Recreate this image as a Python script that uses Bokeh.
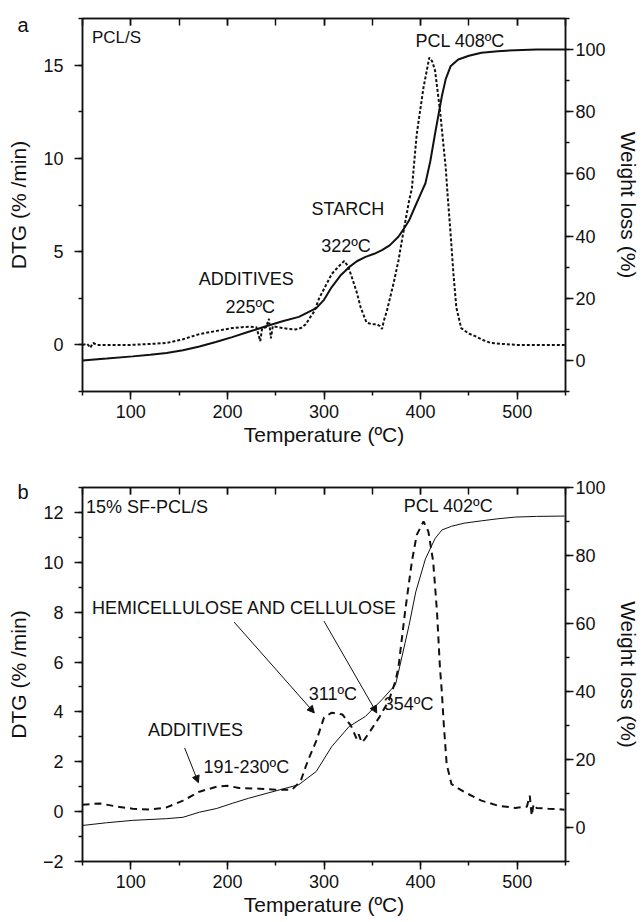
from bokeh.plotting import figure
from bokeh.models import Range1d, LinearAxis, SingleIntervalTicker, Label, Arrow, NormalHead, Title
from bokeh.layouts import column
from bokeh.embed import file_html
from bokeh.resources import INLINE

FONT = "Liberation Sans"

# ---------------- Panel a: PCL/S ----------------
a_dtg_T = [50, 55, 58, 61, 65, 70, 80, 100, 120, 137, 154, 171, 189, 205, 215, 223, 230, 234, 236, 240,
           243, 245, 247, 250, 258, 264, 271, 276, 281, 286, 290, 295, 300, 308, 315, 321, 325, 329, 334,
           338, 344, 350, 355, 358, 360, 362, 365, 372, 377, 382, 388, 391, 396, 403, 409, 412, 415, 420,
           426, 428, 431, 434, 437, 442, 450, 456, 465, 473, 485, 498, 520, 550]
a_dtg = [0.0, 0.05, -0.15, 0.1, 0.0, 0.0, 0.0, 0.0, 0.05, 0.1, 0.3, 0.58, 0.75, 0.9, 0.95, 0.97, 0.95, 0.2,
         0.9, 0.95, 1.4, 0.35, 1.0, 0.97, 0.9, 0.85, 0.83, 0.9, 1.1, 1.5, 1.8, 2.5, 3.0, 3.8, 4.2, 4.5, 4.2,
         3.6, 2.8, 2.0, 1.2, 1.1, 1.1, 1.0, 0.85, 1.3, 1.8, 3.3, 4.5, 6.0, 7.7, 8.4, 11.3, 13.8, 15.4, 15.2,
         14.7, 12.6, 9.5, 8.0, 6.0, 3.8, 2.0, 0.9, 0.6, 0.48, 0.25, 0.1, 0.05, 0.0, 0.0, 0.0]

a_wl_T = [50, 75, 102, 120, 137, 154, 171, 188, 205, 222, 240, 257, 274, 292, 300, 308, 317, 326, 334, 343,
          352, 360, 368, 377, 383, 388, 395, 400, 405, 410, 415, 422, 426, 431, 439, 450, 463, 480, 498,
          520, 550]
a_wl = [0.0, 0.6, 1.3, 1.8, 2.4, 3.3, 4.5, 5.9, 7.5, 9.2, 11.0, 12.6, 14.0, 16.8, 19.5, 23.6, 27.3, 30.0,
        31.9, 33.3, 34.3, 35.5, 37.0, 39.8, 42.5, 45.0, 50.0, 53.5, 57.0, 64.0, 73.0, 85.0, 90.5, 94.6,
        96.8, 98.0, 99.0, 99.5, 99.8, 100.0, 100.0]

# ---------------- Panel b: 15% SF-PCL/S ----------------
b_dtg_T = [50, 68, 86, 102, 120, 137, 154, 171, 189, 200, 212, 233, 250, 267, 276, 281, 285, 292, 300, 308,
           319, 328, 334, 336, 339, 342, 348, 357, 367, 374, 377, 384, 391, 396, 403, 408, 413, 417, 420,
           422, 424, 427, 432, 446, 463, 480, 498, 510, 513, 515, 517, 520, 532, 549]
b_dtg = [0.28, 0.33, 0.2, 0.12, 0.08, 0.17, 0.44, 0.8, 1.0, 1.04, 0.95, 0.92, 0.88, 0.88, 1.24, 1.8, 2.2,
         2.84, 3.77, 3.97, 3.9, 3.44, 2.9, 3.1, 2.77, 2.9, 3.24, 3.77, 4.44, 5.24, 5.77, 8.04, 10.04, 11.1,
         11.64, 11.24, 10.04, 8.0, 5.8, 4.8, 3.5, 1.9, 1.1, 0.77, 0.44, 0.24, 0.15, 0.2, 0.64, -0.16, 0.3,
         0.15, 0.12, 0.08]

b_wl_T = [50, 75, 102, 137, 154, 171, 189, 205, 222, 240, 257, 274, 292, 308, 326, 343, 360, 374, 377, 388,
          395, 405, 415, 422, 432, 445, 463, 480, 498, 520, 549]
b_wl = [0.6, 1.4, 2.1, 2.6, 3.0, 4.5, 5.6, 7.1, 8.6, 10.0, 11.3, 12.6, 16.5, 23.8, 29.7, 32.7, 37.6, 42.0,
        45.6, 59.4, 69.3, 79.0, 85.0, 87.5, 88.6, 89.5, 90.2, 90.8, 91.3, 91.5, 91.6]

x_label = "Temperature (ºC)"
y_left_label = "DTG (% /min)"
y_right_label = "Weight loss (%)"


def style_axis(ax, side):
    ax.axis_line_width = 1.5
    ax.axis_line_color = "#111111"
    ax.major_tick_line_width = 1.5
    ax.minor_tick_line_width = 1.5
    ax.major_tick_line_color = "#111111"
    ax.minor_tick_line_color = "#111111"
    ax.major_label_text_font = FONT
    ax.major_label_text_font_size = "18px"
    ax.major_label_text_color = "#111111"
    ax.axis_label_text_font = FONT
    ax.axis_label_text_font_size = "21px"
    ax.axis_label_text_font_style = "normal"
    ax.axis_label_text_color = "#111111"
    ax.major_tick_in = 0
    ax.major_tick_out = 8
    ax.minor_tick_in = 0
    ax.minor_tick_out = 4
    if side == "left":
        ax.major_label_standoff = 11
        ax.axis_label_standoff = 10
    elif side == "below":
        ax.major_label_standoff = 5
        ax.axis_label_standoff = 2
    elif side == "right":
        ax.major_label_standoff = 2
        ax.axis_label_standoff = 8


def make_panel(height, top, bottom, y_rng, y_int, wl_rng, letter, letter_standoff):
    p = figure(width=642, height=height, x_range=Range1d(50, 550), y_range=Range1d(*y_rng),
               output_backend="svg", toolbar_location=None,
               min_border_left=82, min_border_right=73, min_border_top=top, min_border_bottom=bottom)
    p.title.visible = False
    p.xgrid.visible = False
    p.ygrid.visible = False
    p.outline_line_color = "#111111"
    p.outline_line_width = 1.5
    p.background_fill_color = "white"
    p.border_fill_color = "white"

    p.xaxis.ticker = SingleIntervalTicker(interval=100, num_minor_ticks=2)
    p.xaxis.axis_label = x_label
    style_axis(p.xaxis[0], "below")
    p.yaxis.ticker = SingleIntervalTicker(interval=y_int, num_minor_ticks=2)
    p.yaxis.axis_label = y_left_label
    style_axis(p.yaxis[0], "left")

    p.extra_y_ranges = {"wl": Range1d(*wl_rng)}
    ra = LinearAxis(y_range_name="wl", axis_label=y_right_label,
                    ticker=SingleIntervalTicker(interval=20, num_minor_ticks=2))
    style_axis(ra, "right")
    p.add_layout(ra, "right")

    ta = LinearAxis(ticker=SingleIntervalTicker(interval=100, num_minor_ticks=2))
    style_axis(ta, "above")
    ta.major_tick_out = 0
    ta.minor_tick_out = 0
    ta.major_tick_in = 7
    ta.minor_tick_in = 7
    ta.major_label_text_font_size = "0px"
    ta.major_label_text_color = None
    ta.major_label_standoff = 0
    p.add_layout(ta, "above")

    # panel letter, placed left of the frame
    p.add_layout(Title(text=letter, align="left", offset=-65, standoff=letter_standoff,
                       text_font=FONT, text_font_size="20px", text_font_style="normal",
                       text_color="#111111"), "above")
    return p


def lab(p, x, y, text, align="center", size="18px"):
    p.add_layout(Label(x=x, y=y, text=text, text_font=FONT, text_font_size=size,
                       text_align=align, text_baseline="middle", text_color="#111111"))


pa = make_panel(470, 18, 79, (-2.5, 17.5), 5, (-10, 110), "a", -35)
pa.line(a_wl_T, a_wl, y_range_name="wl", line_color="#111111", line_width=2)
pa.line(a_dtg_T, a_dtg, line_color="#111111", line_width=2, line_dash="3 2")
lab(pa, 59.8, 16.5, "PCL/S", align="left", size="17px")
lab(pa, 441, 16.3, "PCL 408ºC")
lab(pa, 324.7, 7.3, "STARCH")
lab(pa, 322.7, 5.3, "322ºC")
lab(pa, 219.6, 3.55, "ADDITIVES")
lab(pa, 223.7, 2.04, "225ºC")

pb = make_panel(451, 17, 60, (-2, 13), 2, (-10, 100), "b", -30)
pb.line(b_wl_T, b_wl, y_range_name="wl", line_color="#111111", line_width=1)
pb.line(b_dtg_T, b_dtg, line_color="#111111", line_width=2, line_dash="7 5")
lab(pb, 53.6, 12.2, "15% SF-PCL/S", align="left")
lab(pb, 428.9, 12.24, "PCL 402ºC")
lab(pb, 59.8, 8.16, "HEMICELLULOSE AND CELLULOSE", align="left")
lab(pb, 309.3, 4.72, "311ºC")
lab(pb, 387.6, 4.32, "354ºC")
lab(pb, 167, 3.28, "ADDITIVES")
lab(pb, 219.6, 1.8, "191-230ºC")

for xs, ys, xe, ye in [(207, 7.6, 290, 3.96), (300, 7.64, 354.6, 3.96), (155.7, 2.56, 170, 1.16)]:
    pb.add_layout(Arrow(x_start=xs, y_start=ys, x_end=xe, y_end=ye, line_width=1, line_color="#111111",
                        end=NormalHead(size=7, line_color="#111111", fill_color="#111111", line_width=1)))

layout = column(pa, pb, spacing=0)
open("out.html", "w").write(file_html(layout, INLINE))
